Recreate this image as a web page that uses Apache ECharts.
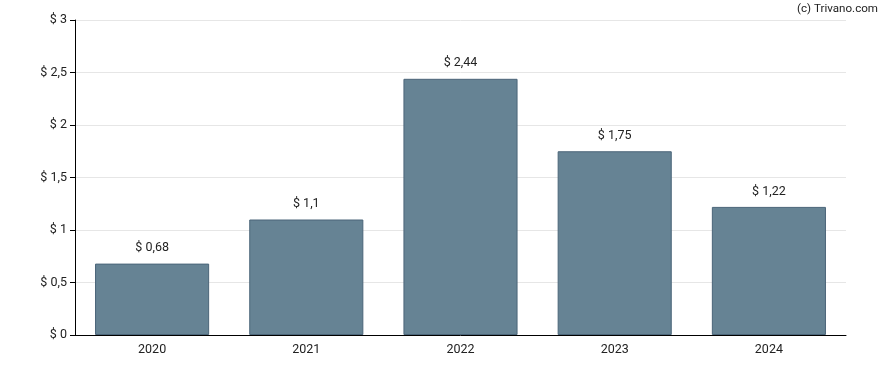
<!DOCTYPE html>
<html><head><meta charset="utf-8">
<script src="https://cdn.jsdelivr.net/npm/echarts@6/dist/echarts.min.js"></script>
<style>html,body{margin:0;padding:0;background:#fff}#c{width:888px;height:370px}</style>
</head><body><div id="c"></div>
<script>
const categories = ['2020','2021','2022','2023','2024'];
const values = [0.68, 1.1, 2.44, 1.75, 1.22];
const yTicks = [0, 0.5, 1, 1.5, 2, 2.5, 3];
const fmt = v => '$ ' + String(v).replace('.', ',');
const chart = echarts.init(document.getElementById('c'));
chart.setOption({
  animation: false,
  graphic: [{type:'text', right: 10, top: 3, style:{text:'(c) Trivano.com', font:'11.6px Roboto, Arial, sans-serif', fill:'#222'}}],
  grid: {left: 75, right: 42, top: 20, bottom: 35},
  xAxis: {type:'category', data: categories,
    axisLine:{lineStyle:{color:'#000'}},
    axisTick:{alignWithLabel:true, length:4, lineStyle:{color:'#000'}},
    axisLabel:{color:'#222', fontSize:12.5, fontFamily:'Roboto, Arial, sans-serif', margin:8}},
  yAxis: {type:'value', min: yTicks[0], max: yTicks[yTicks.length-1], interval: 0.5,
    axisLine:{show:true, lineStyle:{color:'#000'}},
    axisTick:{show:true, length:5, lineStyle:{color:'#000'}},
    splitLine:{lineStyle:{color:'#e6e6e6'}},
    axisLabel:{color:'#222', fontSize:12.5, fontFamily:'Roboto, Arial, sans-serif', margin:8, formatter: fmt}},
  series: [{type:'bar', data: values, barWidth:'74%',
    itemStyle:{color:'#668394', borderColor:'#4b6579', borderWidth:1},
    label:{show:true, position:'top', distance:9, color:'#222', fontSize:12.5, fontFamily:'Roboto, Arial, sans-serif', formatter: p => fmt(p.value)}}]
});
</script></body></html>
